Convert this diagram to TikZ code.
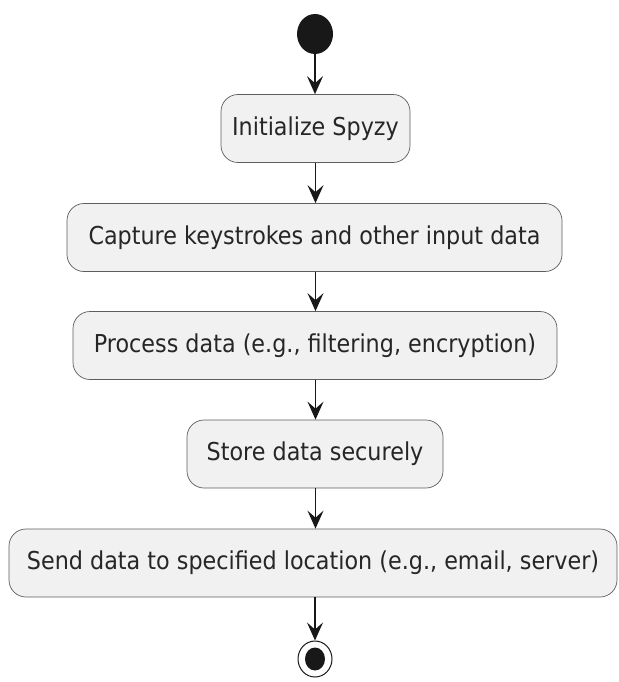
\documentclass[tikz,border=0pt]{standalone}
\usepackage{fontspec}
\setmainfont{DejaVu Sans}
\usetikzlibrary{arrows.meta,shapes.geometric}
\definecolor{boxfill}{HTML}{F1F1F1}
\definecolor{lineclr}{HTML}{181818}
\newcommand{\acttext}[1]{\scalebox{0.995}[1.1]{#1}}
\tikzset{
  act/.style={draw=lineclr!70, line width=0.7pt, fill=boxfill, rounded corners=17pt,
    minimum height=68pt, inner sep=0pt, font=\fontsize{22.4}{26}\selectfont, text=black!85},
  flow/.style={draw=lineclr, line width=1.4pt, -{Stealth[length=18pt,width=16pt,inset=7pt]}},
}
\begin{document}
\begin{tikzpicture}[x=1pt,y=-1pt]
\useasboundingbox (0,0) rectangle (618,682);
\node[ellipse, fill=lineclr, minimum width=36pt, minimum height=40pt, inner sep=0pt] (start) at (315,34) {};
\node[act, minimum width=189pt] (b1) at (315.5,128.5) {\acttext{Initialize Spyzy}};
\node[act, minimum width=495pt] (b2) at (314.5,237.5) {\acttext{Capture keystrokes and other input data}};
\node[act, minimum width=484pt] (b3) at (315,345.5) {\acttext{Process data (e.g., filtering, encryption)}};
\node[act, minimum width=256pt] (b4) at (315,454) {\acttext{Store data securely}};
\node[act, minimum width=608pt] (b5) at (313,563) {\acttext{Send data to specified location (e.g., email, server)}};
\node[ellipse, draw=lineclr, line width=1pt, fill=white, minimum width=34pt, minimum height=36pt, inner sep=0pt] (end) at (315,659) {};
\node[ellipse, fill=lineclr, minimum width=20pt, minimum height=23pt, inner sep=0pt] (enddot) at (end.center) {};
\draw[flow] (start) -- (start |- b1.north);
\draw[flow] (b1) -- (b1 |- b2.north);
\draw[flow] (b1 |- b2.south) -- (b1 |- b3.north);
\draw[flow] (b1 |- b3.south) -- (b1 |- b4.north);
\draw[flow] (b1 |- b4.south) -- (b1 |- b5.north);
\draw[flow] (end |- b5.south) -- (end);
\end{tikzpicture}
\end{document}
